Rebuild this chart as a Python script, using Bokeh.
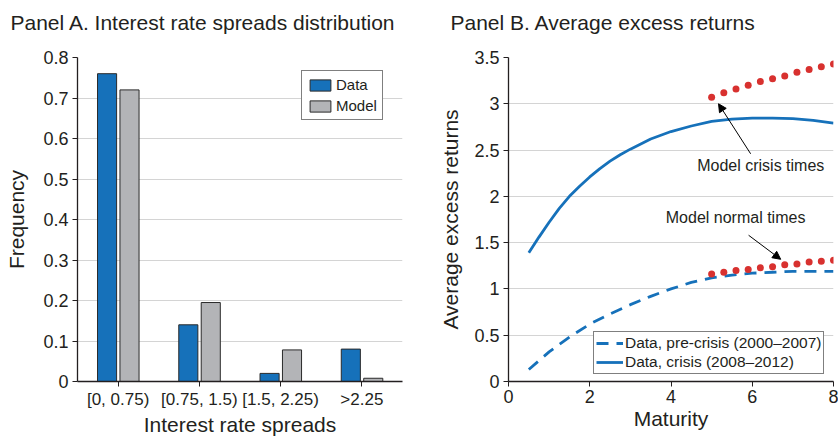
from bokeh.plotting import figure
from bokeh.layouts import row
from bokeh.models import (FactorRange, Range1d, FixedTicker, ColumnDataSource, Arrow, NormalHead, Label, Legend, LegendItem, Title)
from bokeh.transform import dodge
from bokeh.embed import file_html
from bokeh.resources import INLINE

# ---------------- data ----------------
spread_bins = ["[0, 0.75)", "[0.75, 1.5)", "[1.5, 2.25)", ">2.25"]
freq_data = [0.76, 0.14, 0.02, 0.08]
freq_model = [0.72, 0.195, 0.078, 0.008]
freq_ticks = [0, 0.1, 0.2, 0.3, 0.4, 0.5, 0.6, 0.7, 0.8]
freq_tick_labels = ["0", "0.1", "0.2", "0.3", "0.4", "0.5", "0.6", "0.7", "0.8"]

maturity_crisis = [0.5, 0.75, 1.0, 1.25, 1.5, 1.75, 2.0, 2.25, 2.5, 2.75, 3.0, 3.5, 4.0, 4.5, 5.0, 5.5, 6.0, 6.5, 7.0, 7.5, 8.0]
ret_crisis = [1.39, 1.56, 1.72, 1.87, 2.00, 2.11, 2.21, 2.30, 2.38, 2.45, 2.51, 2.62, 2.70, 2.76, 2.81, 2.835, 2.845, 2.845, 2.84, 2.82, 2.79]
maturity_pre = [0.5, 1.0, 1.5, 2.0, 2.5, 3.0, 3.5, 4.0, 4.5, 5.0, 5.5, 6.0, 6.5, 7.0, 7.5, 8.0]
ret_precrisis = [0.13, 0.32, 0.48, 0.62, 0.73, 0.83, 0.92, 1.00, 1.07, 1.12, 1.15, 1.17, 1.18, 1.19, 1.19, 1.19]
model_maturity = [5.0, 5.3, 5.6, 5.9, 6.2, 6.5, 6.8, 7.1, 7.4, 7.7, 8.0]
model_crisis = [3.07, 3.12, 3.16, 3.20, 3.24, 3.27, 3.30, 3.34, 3.37, 3.40, 3.43]
model_normal = [1.16, 1.18, 1.20, 1.21, 1.23, 1.24, 1.26, 1.27, 1.29, 1.30, 1.31]
ret_ticks = [0, 0.5, 1, 1.5, 2, 2.5, 3, 3.5]
ret_tick_labels = ["0", "0.5", "1", "1.5", "2", "2.5", "3", "3.5"]
mat_ticks = [0, 2, 4, 6, 8]

FONT = "Liberation Sans"
TXT = "#231f20"
BLUE = "#1671ba"
GRAY = "#b3b4b7"
RED = "#d8312f"
GRID = "#d4d4d4"


def style(p, ylabel, xlabel, title, title_dx):
    p.background_fill_color = "white"
    p.border_fill_color = "white"
    p.outline_line_color = None
    p.xgrid.grid_line_color = None
    p.ygrid.grid_line_color = GRID
    p.ygrid.grid_line_width = 1.2
    # spacer panel next to the frame, then the real panel title above it
    p.add_layout(Title(text=" ", text_font_size="1px", standoff=17), "above")
    p.add_layout(Title(text=title, text_font=FONT, text_font_size="21px", text_font_style="normal",
                       text_color=TXT, align="left", vertical_align="bottom", standoff=8,
                       offset=title_dx), "above")
    for ax in (p.xaxis[0], p.yaxis[0]):
        ax.axis_line_color = TXT
        ax.axis_line_width = 1.3
        ax.major_tick_line_color = TXT
        ax.major_tick_out = 5
        ax.major_tick_in = 0
        ax.minor_tick_line_color = None
        ax.major_label_text_font = FONT
        ax.major_label_text_font_size = "18px"
        ax.major_label_text_color = TXT
        ax.axis_label_text_font = FONT
        ax.axis_label_text_font_size = "21px"
        ax.axis_label_text_font_style = "normal"
        ax.axis_label_text_color = TXT
    p.yaxis[0].axis_label = ylabel
    p.xaxis[0].axis_label = xlabel
    p.xaxis[0].major_label_standoff = 3
    p.xaxis[0].axis_label_standoff = 1
    p.yaxis[0].major_label_standoff = 4


# ---------------- Panel A ----------------
src = ColumnDataSource(dict(cat=spread_bins, data=freq_data, model=freq_model))
p1 = figure(width=419, height=440, x_range=FactorRange(*spread_bins, range_padding=0),
            y_range=Range1d(0, 0.8), output_backend="svg", toolbar_location=None,
            min_border_left=77, min_border_right=17, min_border_top=57, min_border_bottom=59)
style(p1, "Frequency", "Interest rate spreads", "Panel A. Interest rate spreads distribution", -67)
p1.xaxis[0].major_label_text_font_size = "17px"
p1.yaxis[0].ticker = FixedTicker(ticks=freq_ticks)
p1.yaxis[0].major_label_overrides = {t: l for t, l in zip(freq_ticks, freq_tick_labels)}
p1.yaxis[0].axis_label_standoff = 12
b1 = p1.vbar(x=dodge("cat", -0.136, range=p1.x_range), top="data", width=0.235, source=src,
             fill_color=BLUE, line_color="#2a2a2a", line_width=1)
b2 = p1.vbar(x=dodge("cat", 0.14, range=p1.x_range), top="model", width=0.235, source=src,
             fill_color=GRAY, line_color="#2a2a2a", line_width=1)
leg1 = Legend(items=[LegendItem(label="Data", renderers=[b1]), LegendItem(label="Model", renderers=[b2])],
              location=(224, 261), label_text_font=FONT, label_text_font_size="15px",
              label_text_color=TXT, border_line_color="black", border_line_width=1.2,
              glyph_width=26, glyph_height=14, label_standoff=3, spacing=4, padding=5,
              margin=0, label_height=16, background_fill_alpha=1)
p1.add_layout(leg1, "center")

# ---------------- Panel B ----------------
p2 = figure(width=419, height=440, x_range=Range1d(0, 8), y_range=Range1d(0, 3.5),
            output_backend="svg", toolbar_location=None,
            min_border_left=89, min_border_right=5, min_border_top=57, min_border_bottom=59)
style(p2, "Average excess returns", "Maturity", "Panel B. Average excess returns", -58)
p2.yaxis[0].ticker = FixedTicker(ticks=ret_ticks)
p2.yaxis[0].major_label_overrides = {t: l for t, l in zip(ret_ticks, ret_tick_labels)}
p2.yaxis[0].axis_label_standoff = 9
p2.xaxis[0].ticker = FixedTicker(ticks=mat_ticks)

l_pre = p2.line(maturity_pre, ret_precrisis, line_color=BLUE, line_width=2.8, line_dash="12 8")
l_cri = p2.line(maturity_crisis, ret_crisis, line_color=BLUE, line_width=2.8, line_join="round")
p2.scatter(model_maturity, model_crisis, size=7, fill_color=RED, line_color=None)
p2.scatter(model_maturity, model_normal, size=7, fill_color=RED, line_color=None)

p2.add_layout(Arrow(end=NormalHead(size=8, fill_color="black", line_color="black", line_width=1),
                    x_start=5.96, y_start=2.46, x_end=5.17, y_end=3.00, line_width=1, line_color="black"))
p2.add_layout(Arrow(end=NormalHead(size=8, fill_color="black", line_color="black", line_width=1),
                    x_start=5.91, y_start=1.58, x_end=6.70, y_end=1.32, line_width=1, line_color="black"))
p2.add_layout(Label(x=6.21, y=2.335, text="Model crisis times", text_align="center", text_baseline="middle",
                    text_font=FONT, text_font_size="16px", text_color=TXT))
p2.add_layout(Label(x=5.59, y=1.77, text="Model normal times", text_align="center", text_baseline="middle",
                    text_font=FONT, text_font_size="16px", text_color=TXT))

leg2 = Legend(items=[LegendItem(label="Data, pre-crisis (2000\u20132007)", renderers=[l_pre]),
                     LegendItem(label="Data, crisis (2008\u20132012)", renderers=[l_cri])],
              location=(85, 7), label_text_font=FONT, label_text_font_size="15.5px",
              label_text_color=TXT, border_line_color="black", border_line_width=1.2,
              glyph_width=27, glyph_height=16, label_standoff=2, spacing=1, padding=2,
              margin=0, label_height=17, background_fill_alpha=1)
p2.add_layout(leg2, "center")

layout = row(p1, p2)
open("out.html", "w").write(file_html(layout, INLINE))
